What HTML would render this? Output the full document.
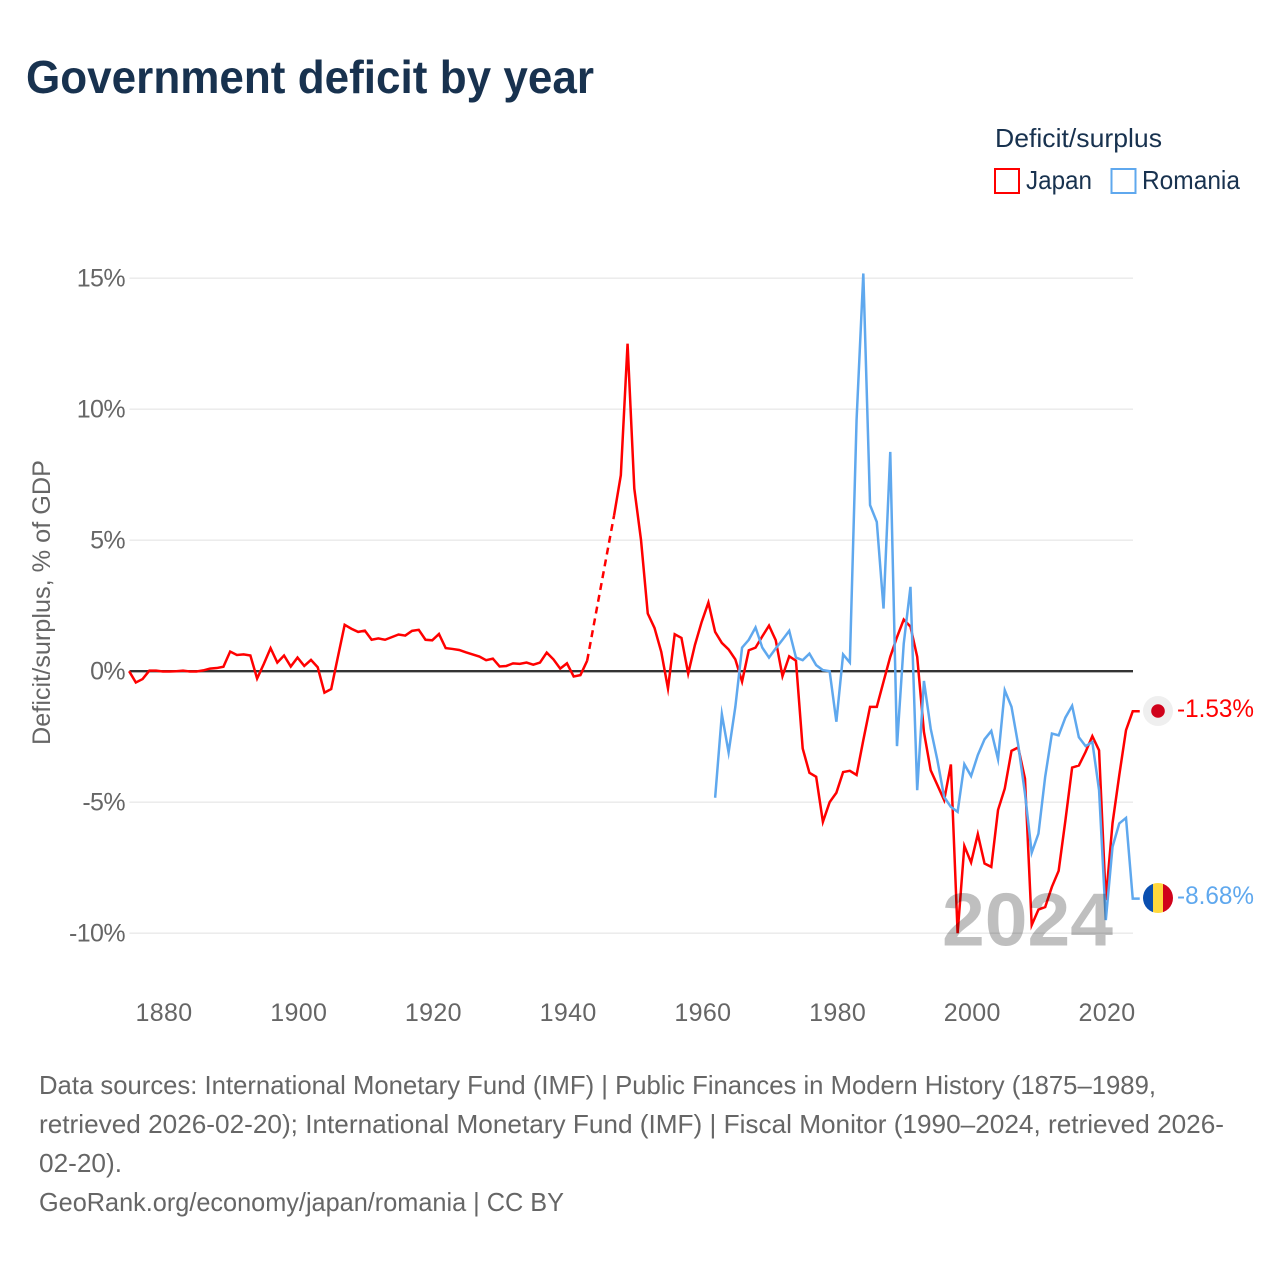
<!DOCTYPE html>
<html lang="en">
<head>
<meta charset="utf-8">
<title>Government deficit by year</title>
<style>
html,body{margin:0;padding:0;background:#fff;width:1280px;height:1280px;overflow:hidden}
svg{display:block;font-family:"Liberation Sans",sans-serif}
</style>
</head>
<body>
<svg id="chart" xmlns="http://www.w3.org/2000/svg" width="1280" height="1280" viewBox="0 0 1280 1280">
  <rect width="1280" height="1280" fill="#fff"/>
  <text x="26" y="93" font-size="46" font-weight="700" fill="#18324f" textLength="568" lengthAdjust="spacingAndGlyphs">Government deficit by year</text>

  <text x="995" y="147" font-size="26" fill="#18324f" textLength="167" lengthAdjust="spacingAndGlyphs">Deficit/surplus</text>
  <g>
    <rect x="995" y="169" width="24" height="24" fill="none" stroke="#ff0000" stroke-width="2"/>
    <text x="1026" y="189" font-size="26" fill="#18324f" textLength="66" lengthAdjust="spacingAndGlyphs">Japan</text>
  </g>
  <g>
    <rect x="1111.5" y="169" width="24" height="24" fill="none" stroke="#5fa8ee" stroke-width="2"/>
    <text x="1142" y="189" font-size="26" fill="#18324f" textLength="98" lengthAdjust="spacingAndGlyphs">Romania</text>
  </g>

  <text transform="translate(50,745) rotate(-90)" x="0" y="0" font-size="25" fill="#666" textLength="285" lengthAdjust="spacingAndGlyphs">Deficit/surplus, % of GDP</text>

  <g id="grid"></g>
  <g id="yticks"></g>
  <g id="xticks"></g>

  <g id="series"></g>
  <line id="zero" stroke="#333" stroke-width="2.4"/>
  <g id="series-top"></g>

  <text x="942" y="945.5" font-size="75" font-weight="700" fill="#000" fill-opacity="0.25" textLength="171" lengthAdjust="spacingAndGlyphs">2024</text>

  <g>
    <circle cx="1158" cy="711" r="15" fill="#efefef"/>
    <circle cx="1158" cy="711" r="6.8" fill="#d0021b"/>
  </g>
  <g>
    <clipPath id="roclip"><circle cx="1158" cy="898" r="15"/></clipPath>
    <g clip-path="url(#roclip)">
      <rect x="1143" y="883" width="10" height="30" fill="#0a4fb0"/>
      <rect x="1153" y="883" width="10" height="30" fill="#ffd83d"/>
      <rect x="1163" y="883" width="10" height="30" fill="#d0021b"/>
    </g>
  </g>
  <text id="label-jp" x="1177" y="717" font-size="25" fill="#ff0000" textLength="77" lengthAdjust="spacingAndGlyphs"></text>
  <text id="label-ro" x="1177" y="904" font-size="25" fill="#5fa8ee" textLength="77" lengthAdjust="spacingAndGlyphs"></text>

  <g font-size="26" fill="#666">
    <text x="39" y="1094" textLength="1117" lengthAdjust="spacingAndGlyphs">Data sources: International Monetary Fund (IMF) | Public Finances in Modern History (1875–1989,</text>
    <text x="39" y="1133" textLength="1185" lengthAdjust="spacingAndGlyphs">retrieved 2026-02-20); International Monetary Fund (IMF) | Fiscal Monitor (1990–2024, retrieved 2026-</text>
    <text x="39" y="1172" textLength="83" lengthAdjust="spacingAndGlyphs">02-20).</text>
    <text x="39" y="1211" textLength="525" lengthAdjust="spacingAndGlyphs">GeoRank.org/economy/japan/romania | CC BY</text>
  </g>
</svg>
<script>
const xTickYears = [1880, 1900, 1920, 1940, 1960, 1980, 2000, 2020];
const yTickValues = [15, 10, 5, 0, -5, -10];
const japanStartYear = 1875;
const japanValues = [
  0, -0.43, -0.3, 0.02, 0.02, -0.01, -0.01, 0, 0.02, -0.01,
  -0.01, 0.03, 0.1, 0.12, 0.17, 0.75, 0.62, 0.64, 0.6, -0.28,
  0.28, 0.88, 0.33, 0.6, 0.18, 0.52, 0.2, 0.43, 0.15, -0.82,
  -0.68, 0.55, 1.77, 1.62, 1.5, 1.55, 1.2, 1.25, 1.2, 1.3,
  1.4, 1.36, 1.54, 1.58, 1.2, 1.18, 1.42, 0.88, 0.85, 0.81,
  0.72, 0.64, 0.56, 0.42, 0.48, 0.18, 0.2, 0.3, 0.28, 0.33,
  0.25, 0.33, 0.71, 0.45, 0.1, 0.3, -0.2, -0.15, 0.4, null,
  null, null, 5.95, 7.48, 12.5, 6.97, 5.0, 2.2, 1.65, 0.74,
  -0.66, 1.41, 1.27, -0.09, 1.0, 1.88, 2.62, 1.5, 1.08, 0.83,
  0.45, -0.4, 0.8, 0.9, 1.33, 1.74, 1.18, -0.19, 0.57, 0.4,
  -2.95, -3.88, -4.03, -5.75, -5.0, -4.64, -3.85, -3.8, -3.96, -2.63,
  -1.36, -1.36, -0.4, 0.55, 1.3, 1.97, 1.7, 0.55, -2.32, -3.78,
  -4.35, -4.92, -3.56, -10.0, -6.67, -7.3, -6.22, -7.34, -7.47, -5.3,
  -4.48, -3.04, -2.91, -4.1, -9.69, -9.1, -9.0, -8.23, -7.62, -5.7,
  -3.68, -3.6, -3.08, -2.48, -3.02, -8.74, -5.8, -3.97, -2.25, -1.53
];
const romaniaStartYear = 1962;
const romaniaValues = [
  -4.83, -1.64, -3.1, -1.36, 0.9, 1.2, 1.67, 0.9, 0.52, 0.87,
  1.2, 1.54, 0.52, 0.42, 0.67, 0.23, 0.04, 0, -1.93, 0.64,
  0.33, 9.6, 15.18, 6.34, 5.7, 2.39, 8.37, -2.86, 1.05, 3.22,
  -4.54, -0.37, -2.19, -3.4, -4.8, -5.18, -5.37, -3.55, -4.0, -3.2,
  -2.6, -2.28, -3.36, -0.73, -1.36, -2.82, -4.67, -6.93, -6.2, -4.03,
  -2.38, -2.45, -1.77, -1.32, -2.52, -2.86, -2.7, -4.54, -9.5, -6.7,
  -5.81, -5.6, -8.68
];

const SVGNS = 'http://www.w3.org/2000/svg';
const plotLeft = 129.5, plotRight = 1133;
function tickX(year) { return 164 + (year - 1880) * (1107 - 164) / 140; }
function xScale(year) { return tickX(year) - 1.2; }
function yScale(v) { return 671.2 - v * 26.2; }
function make(tag, attrs, parent) {
  const el = document.createElementNS(SVGNS, tag);
  for (const k in attrs) el.setAttribute(k, attrs[k]);
  parent.appendChild(el);
  return el;
}

const grid = document.getElementById('grid');
const yticks = document.getElementById('yticks');
const xticks = document.getElementById('xticks');

yTickValues.forEach(function (v) {
  if (v !== 0) {
    const gl = make('line', {x1: plotLeft, x2: plotRight, y1: yScale(v), y2: yScale(v), stroke: '#e9e9e9', 'stroke-width': 1.4}, grid);
    
    
  }
  const t = make('text', {x: 125, y: yScale(v) + 8.5, 'text-anchor': 'end', 'font-size': 25, 'letter-spacing': -0.6, fill: '#666'}, yticks);
  t.textContent = v + '%';
  
  
});

xTickYears.forEach(function (yr) {
  const t = make('text', {x: tickX(yr), y: 1021, 'text-anchor': 'middle', 'font-size': 25, 'letter-spacing': 0.35, fill: '#666'}, xticks);
  t.textContent = String(yr);
  
  
});

const zero = document.getElementById('zero');
zero.setAttribute('x1', plotLeft);
zero.setAttribute('x2', plotRight);
zero.setAttribute('y1', yScale(0));
zero.setAttribute('y2', yScale(0));

function drawSeries(startYear, values, color, name) {
  const parent = document.getElementById('series-top');
  let solid = '', prev = null, pen = false, lastX = 0, lastY = 0;
  values.forEach(function (v, i) {
    if (v === null) { pen = false; return; }
    const px = xScale(startYear + i), py = yScale(v);
    if (prev && !pen) {
      const dash = make('path', {d: 'M' + prev[0] + ' ' + prev[1] + 'L' + px + ' ' + py, fill: 'none', stroke: color, 'stroke-width': 2.5, 'stroke-dasharray': '7 5'}, parent);
      
      
      solid += 'M' + px + ' ' + py;
    } else {
      solid += (solid ? 'L' : 'M') + px + ' ' + py;
    }
    prev = [px, py];
    pen = true;
    lastX = px;
    lastY = py;
  });
  solid += 'L' + (lastX + 7) + ' ' + lastY;
  const line = make('path', {d: solid, fill: 'none', stroke: color, 'stroke-width': 2.5, 'stroke-linejoin': 'miter', 'stroke-miterlimit': 8}, parent);
  
  
}
drawSeries(japanStartYear, japanValues, '#ff0000', 'japan');
drawSeries(romaniaStartYear, romaniaValues, '#5fa8ee', 'romania');

document.getElementById('label-jp').textContent = japanValues[japanValues.length - 1].toFixed(2) + '%';
document.getElementById('label-ro').textContent = romaniaValues[romaniaValues.length - 1].toFixed(2) + '%';
</script>
</body>
</html>
